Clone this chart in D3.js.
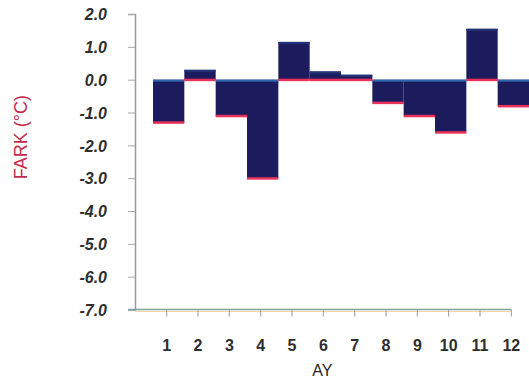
<!DOCTYPE html>
<html>
<head>
<meta charset="utf-8">
<script src="https://cdn.jsdelivr.net/npm/d3@7"></script>
<style>
  html, body { margin: 0; padding: 0; background: #fff; }
  svg { display: block; }
  text { font-family: "Liberation Sans", Arial, sans-serif; }
</style>
</head>
<body>
<svg id="chart" width="529" height="388"></svg>
<script>
// monthly deviation (FARK, °C) per month (AY)
const months = ["1", "2", "3", "4", "5", "6", "7", "8", "9", "10", "11", "12"];
const deviations = [-1.3, 0.3, -1.1, -3.0, 1.15, 0.25, 0.15, -0.7, -1.1, -1.6, 1.55, -0.8];
const yTicks = [2, 1, 0, -1, -2, -3, -4, -5, -6, -7];

const svg = d3.select("#chart");

const axisX = 135;          // where the y axis stands
const plot = { left: 153, right: 529, top: 14, bottom: 309.5 };

const x = d3.scaleBand()
    .domain(months)
    .range([plot.left, plot.right])
    .padding(0);

const y = d3.scaleLinear()
    .domain([-7, 2])
    .range([plot.bottom, plot.top]);

// plain hyphen as minus, like the original
const fmt = (d) => d3.format(".1f")(d).replace("\u2212", "-");

// y axis
const yAxis = svg.append("g")
    .attr("transform", `translate(${axisX},0)`)
    .call(d3.axisLeft(y)
        .tickValues(yTicks)
        .tickFormat(fmt)
        .tickSize(7)
        .tickPadding(21));

yAxis.select(".domain").attr("stroke", "#9a9a9a").attr("stroke-width", 1.5);
yAxis.selectAll(".tick line").attr("stroke", "#a8a8a8");
yAxis.selectAll(".tick text")
    .attr("fill", "#2e2e2e")
    .attr("font-size", "16px")
    .attr("font-weight", "bold")
    .attr("font-style", "italic")
    .attr("dy", "0.36em");

// bars
const bars = svg.append("g");
bars.selectAll("rect.bar")
    .data(months)
    .enter()
    .append("rect")
    .attr("class", "bar")
    .attr("x", (d) => x(d))
    .attr("width", x.bandwidth())
    .attr("y", (d, i) => y(Math.max(0, deviations[i])))
    .attr("height", (d, i) => Math.abs(y(deviations[i]) - y(0)))
    .attr("fill", "#1b1b5e");

// light top edge
bars.selectAll("rect.top")
    .data(months)
    .enter()
    .append("rect")
    .attr("x", (d) => x(d))
    .attr("width", x.bandwidth())
    .attr("y", (d, i) => y(Math.max(0, deviations[i])))
    .attr("height", 2)
    .attr("fill", (d, i) => deviations[i] < 0 ? "#2f66b0" : "#23357a");

// red bottom edge
bars.selectAll("rect.bottom")
    .data(months)
    .enter()
    .append("rect")
    .attr("x", (d) => x(d))
    .attr("width", x.bandwidth())
    .attr("y", (d, i) => y(Math.min(0, deviations[i])) - 1)
    .attr("height", 2.5)
    .attr("fill", "#e8325c");

// x axis
const xEnd = x(months[months.length - 1]) + x.bandwidth() / 2 - 2;
const xAxis = svg.append("g");
xAxis.append("line")
    .attr("x1", axisX - 7).attr("x2", xEnd)
    .attr("y1", y(-7)).attr("y2", y(-7))
    .attr("stroke", "#7fa39a").attr("stroke-width", 1.5);
xAxis.append("line")
    .attr("x1", axisX).attr("x2", xEnd)
    .attr("y1", y(-7) + 2).attr("y2", y(-7) + 2)
    .attr("stroke", "#f3d7a8").attr("stroke-width", 1);

xAxis.selectAll("line.tick")
    .data(months)
    .enter()
    .append("line")
    .attr("x1", (d) => x(d) + x.bandwidth() / 2 - 2)
    .attr("x2", (d) => x(d) + x.bandwidth() / 2 - 2)
    .attr("y1", y(-7))
    .attr("y2", y(-7) + 7)
    .attr("stroke", "#9a9a9a");

xAxis.selectAll("text.tick")
    .data(months)
    .enter()
    .append("text")
    .attr("x", (d) => x(d) + x.bandwidth() / 2 - 2)
    .attr("y", y(-7) + 41)
    .attr("text-anchor", "middle")
    .attr("font-size", "16px")
    .attr("font-weight", "bold")
    .attr("fill", "#2e2e2e")
    .text((d) => d);

// axis titles
svg.append("text")
    .attr("x", x("6") + x.bandwidth() / 2 - 3)
    .attr("y", y(-7) + 66)
    .attr("text-anchor", "middle")
    .attr("font-size", "16px")
    .attr("fill", "#262626")
    .text("AY");

svg.append("text")
    .attr("transform", `translate(27,${y(-1.75)}) rotate(-90)`)
    .attr("text-anchor", "middle")
    .attr("font-size", "18px")
    .attr("fill", "#c42a4a")
    .text("FARK (°C)");
</script>
</body>
</html>
